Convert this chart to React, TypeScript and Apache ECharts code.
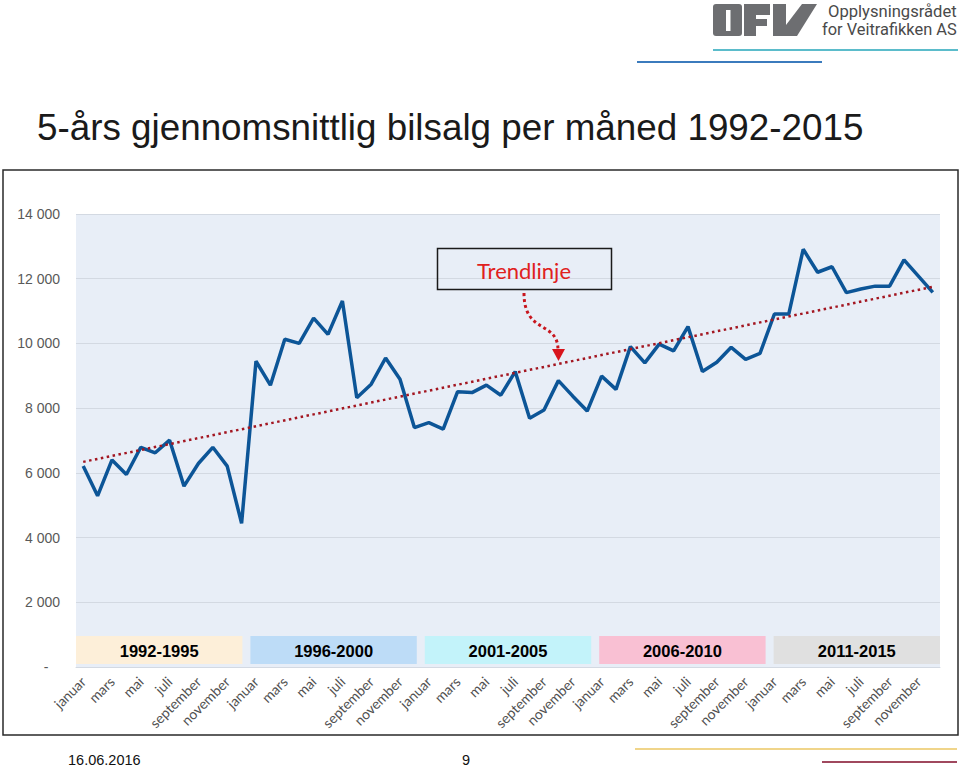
import React, { useEffect, useRef } from "react";
import * as echarts from "echarts";

const months = ["januar", "februar", "mars", "april", "mai", "juni", "juli", "august", "september", "oktober", "november", "desember"];
const periods = ["1992-1995", "1996-2000", "2001-2005", "2006-2010", "2011-2015"];
const categories: string[] = periods.flatMap(() => months);

const sales1992_1995 = [6210, 5290, 6400, 5950, 6790, 6620, 7010, 5590, 6290, 6790, 6210, 4440];
const sales1996_2000 = [9450, 8710, 10130, 10000, 10780, 10280, 11310, 8320, 8740, 9550, 8890, 7400];
const sales2001_2005 = [7550, 7350, 8510, 8480, 8710, 8400, 9130, 7690, 7940, 8850, 8370, 7910];
const sales2006_2010 = [8990, 8580, 9900, 9400, 9980, 9770, 10520, 9130, 9420, 9880, 9510, 9690];
const sales2011_2015 = [10910, 10910, 12910, 12200, 12370, 11570, 11680, 11770, 11770, 12580, 12080, 11580];
const sales = [...sales1992_1995, ...sales1996_2000, ...sales2001_2005, ...sales2006_2010, ...sales2011_2015];

const trendStart = 6340;
const trendEnd = 11750;

const bandColors = ["#fdefd9", "#bddcf7", "#c3f3fa", "#f9c0d3", "#e0e0e0"];

const GRID_LEFT = 76;
const GRID_RIGHT = 940;
const GRID_TOP = 214;
const GRID_BOTTOM = 667;

const fmt = (v: number) => (v === 0 ? "-\u00a0\u00a0\u00a0" : String(v).replace(/\B(?=(\d{3})+(?!\d))/g, " "));

export default function App() {
  const ref = useRef<HTMLDivElement>(null);
  useEffect(() => {
    if (!ref.current) return;
    const chart = echarts.init(ref.current, null, { renderer: "svg" });

    const gap = 8;
    const bw = (GRID_RIGHT - GRID_LEFT - gap * 4) / 5;
    const bandEls: any[] = [];
    periods.forEach((p, i) => {
      const x = GRID_LEFT + i * (bw + gap);
      bandEls.push({
        type: "rect",
        shape: { x, y: 636, width: bw, height: 28 },
        style: { fill: bandColors[i] },
        z: 50,
      });
      bandEls.push({
        type: "text",
        x: x + bw / 2,
        y: 651,
        style: {
          text: p,
          fill: "#000",
          font: "bold 16.5px 'Liberation Sans', Arial, sans-serif",
          align: "center",
          verticalAlign: "middle",
        },
        z: 51,
      });
    });

    chart.setOption({
      animation: false,
      backgroundColor: "#ffffff",
      grid: {
        left: GRID_LEFT,
        right: 960 - GRID_RIGHT,
        top: GRID_TOP,
        bottom: 769 - GRID_BOTTOM,
        show: true,
        backgroundColor: "#e8eef7",
        borderWidth: 0,
      },
      xAxis: {
        type: "category",
        data: categories,
        boundaryGap: true,
        axisLine: { show: true, lineStyle: { color: "#d3d9e2", width: 1 } },
        axisTick: { show: false },
        axisLabel: {
          interval: 1,
          rotate: 45,
          margin: 12,
          fontFamily: "Lato, 'Open Sans', sans-serif",
          fontSize: 14,
          color: "#505050",
        },
        splitLine: { show: false },
      },
      yAxis: {
        type: "value",
        min: 0,
        max: 14000,
        interval: 2000,
        axisLine: { show: false },
        axisTick: { show: false },
        axisLabel: {
          formatter: (v: number) => fmt(v),
          margin: 16,
          fontFamily: "'Liberation Sans', Arial, sans-serif",
          fontSize: 14,
          color: "#595959",
        },
        splitLine: { show: true, lineStyle: { color: "#d3d9e2", width: 1.2 } },
      },
      series: [
        {
          name: "Bilsalg",
          type: "line",
          data: sales,
          symbol: "none",
          lineStyle: { color: "#0c5597", width: 3.5 },
          z: 3,
        },
        {
          name: "Trendlinje",
          type: "line",
          data: [
            [0, trendStart],
            [categories.length - 1, trendEnd],
          ],
          symbol: "none",
          lineStyle: { color: "#a31621", width: 2.5, type: [2.5, 3.5] },
          z: 4,
        },
      ],
      graphic: [
        {
          type: "rect",
          shape: { x: 3, y: 170, width: 955, height: 565 },
          style: { fill: "none", stroke: "#2a2a2a", lineWidth: 1.5 },
          z: 1,
        },
        {
          type: "text",
          x: 37,
          y: 127,
          style: {
            text: "5-års gjennomsnittlig bilsalg per måned 1992-2015",
            fill: "#1a1a1a",
            font: "36.8px 'Liberation Sans', Arial, sans-serif",
            verticalAlign: "middle",
          },
        },
        {
          type: "rect",
          shape: { x: 713, y: 4, width: 29, height: 32, r: 3 },
          style: { fill: "#6d6e71" },
        },
        {
          type: "rect",
          shape: { x: 726, y: 10, width: 4.5, height: 21 },
          style: { fill: "#ffffff" },
        },
        {
          type: "polygon",
          shape: {
            points: [
              [744, 4], [770, 4], [770, 15], [756, 15], [756, 19], [767, 19], [767, 26], [756, 26], [756, 36], [744, 36],
            ],
          },
          style: { fill: "#6d6e71" },
        },
        {
          type: "polygon",
          shape: {
            points: [
              [773, 4], [786, 4], [786, 25], [802, 4], [817, 4], [797, 36], [773, 36],
            ],
          },
          style: { fill: "#6d6e71" },
        },
        {
          type: "text",
          x: 828,
          y: 11,
          style: {
            text: "Opplysningsrådet",
            fill: "#4a4a4a",
            font: "16.6px Roboto, sans-serif",
            verticalAlign: "middle",
          },
        },
        {
          type: "text",
          x: 822,
          y: 29,
          style: {
            text: "for Veitrafikken AS",
            fill: "#4a4a4a",
            font: "16.4px Roboto, sans-serif",
            verticalAlign: "middle",
          },
        },
        {
          type: "line",
          shape: { x1: 713, y1: 50, x2: 958, y2: 50 },
          style: { stroke: "#5bbccb", lineWidth: 2 },
        },
        {
          type: "line",
          shape: { x1: 637, y1: 62, x2: 822, y2: 62 },
          style: { stroke: "#3b7bbd", lineWidth: 2 },
        },
        {
          type: "rect",
          shape: { x: 437.5, y: 248.5, width: 174, height: 41 },
          style: { fill: "none", stroke: "#1a1a1a", lineWidth: 1.5 },
          z: 60,
        },
        {
          type: "text",
          x: 524,
          y: 270,
          style: {
            text: "Trendlinje",
            fill: "#e0211d",
            font: "22px Lato, 'Open Sans', sans-serif",
            align: "center",
            verticalAlign: "middle",
          },
          z: 60,
        },
        {
          type: "bezierCurve",
          shape: { x1: 524, y1: 293, cpx1: 524, cpy1: 335, cpx2: 558, cpy2: 320, x2: 558, y2: 350 },
          style: { fill: "none", stroke: "#c8161e", lineWidth: 3, lineDash: [3, 3] },
          z: 60,
        },
        {
          type: "polygon",
          shape: { points: [[552, 349], [565, 349], [558.5, 361]] },
          style: { fill: "#d8141c" },
          z: 60,
        },
        ...bandEls,
        {
          type: "text",
          x: 68,
          y: 760,
          style: {
            text: "16.06.2016",
            fill: "#111",
            font: "14.5px 'Liberation Sans', Arial, sans-serif",
            verticalAlign: "middle",
          },
        },
        {
          type: "text",
          x: 462,
          y: 760,
          style: {
            text: "9",
            fill: "#111",
            font: "14.5px 'Liberation Sans', Arial, sans-serif",
            verticalAlign: "middle",
          },
        },
        {
          type: "line",
          shape: { x1: 635, y1: 749, x2: 957, y2: 749 },
          style: { stroke: "#f0d58a", lineWidth: 2 },
        },
        {
          type: "line",
          shape: { x1: 822, y1: 762, x2: 957, y2: 762 },
          style: { stroke: "#a0485e", lineWidth: 2 },
        },
      ],
    });
    return () => chart.dispose();
  }, []);
  return <div ref={ref} style={{ width: 960, height: 769, position: "absolute", left: 0, top: 0 }} />;
}
